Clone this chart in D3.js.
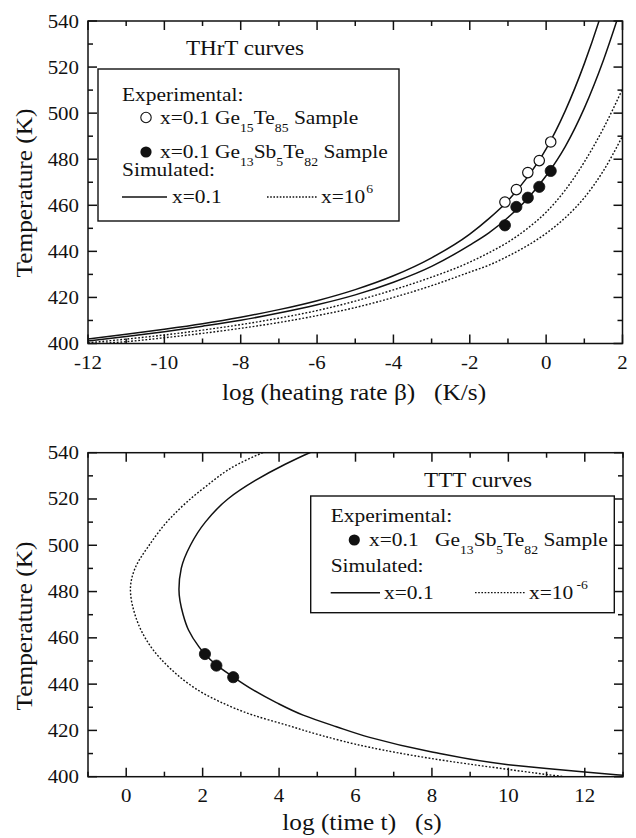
<!DOCTYPE html>
<html>
<head>
<meta charset="utf-8">
<script src="https://cdn.jsdelivr.net/npm/d3@7"></script>
<style>
  html, body { margin: 0; padding: 0; background: #fff; }
  svg { display: block; }
  text { font-family: "Liberation Serif", "Times New Roman", serif; fill: #111; white-space: pre; }
  .tick-mark { stroke: #111; stroke-width: 1.5px; fill: none; }
</style>
</head>
<body>
<svg id="chart" width="636" height="838" viewBox="0 0 636 838"></svg>
<script>
// ---------- THrT panel: temperature vs log heating rate ----------
const thrtLogRate = [-12, -11, -10, -9, -8, -7, -6, -5, -4, -3, -2, -1.5, -1, -0.5, 0, 0.5, 1, 1.5, 2];
// simulated, x = 0.1 (upper curve follows Ge15Te85 data, lower Ge13Sb5Te82)
const thrtSimUpper = [402.0, 404.0, 406.2, 408.6, 411.4, 414.7, 418.6, 423.4, 429.4, 437.2, 447.5, 454.2, 462.0, 472.0, 484.5, 501.0, 521.5, 546.0, 575.0];
const thrtSimLower = [401.1, 403.0, 405.1, 407.5, 410.1, 413.2, 416.8, 421.1, 426.6, 433.5, 442.7, 448.0, 454.7, 462.6, 472.8, 485.5, 502.2, 523.0, 547.7];
// simulated, x = 10^-6
const thrtSim6Upper = [400.3, 401.9, 403.7, 405.8, 408.2, 411.0, 414.3, 418.4, 423.3, 428.8, 435.3, 439.4, 444.0, 449.8, 457.0, 466.6, 478.8, 493.4, 510.5];
const thrtSim6Lower = [399.7, 400.8, 402.5, 404.4, 406.6, 409.1, 412.1, 415.6, 420.0, 425.1, 431.0, 434.0, 437.9, 442.4, 447.8, 454.6, 463.3, 475.0, 490.0];
// experimental points
const thrtExpRate = [-1.08, -0.78, -0.48, -0.18, 0.12];
const thrtExpGeTe = [461.4, 466.8, 474.2, 479.4, 487.5];
const thrtExpGeSbTe = [451.3, 459.3, 463.3, 468.0, 474.9];

// ---------- TTT panel: temperature vs log time ----------
const tttSimT    = [546, 540, 535, 528, 520, 510, 500, 490, 481, 470, 463.4, 456.2, 453.3, 448.4, 443.2, 437.5, 432, 426.6, 421.6, 417, 410.8, 405.2, 403.5, 402, 400.6, 399.5];
const tttSimLogt = [5.7, 4.80, 4.16, 3.38, 2.66, 2.07, 1.68, 1.44, 1.38, 1.49, 1.63, 1.90, 2.04, 2.35, 2.79, 3.32, 3.93, 4.63, 5.50, 6.37, 7.97, 10.0, 11.0, 12.0, 13.0, 13.8];
const tttSim6T    = [546, 540, 535, 525, 512, 500, 490, 481, 470, 462.6, 454.7, 446.8, 440.3, 436, 432.4, 426.6, 422.3, 418, 412.7, 407.9, 403.2, 400.3, 399];
const tttSim6Logt = [4.45, 3.57, 2.92, 2.05, 1.17, 0.6, 0.23, 0.11, 0.23, 0.41, 0.71, 1.15, 1.62, 2.02, 2.45, 3.32, 4.20, 5.07, 6.37, 7.97, 9.97, 11.32, 12.0];
const tttExpLogt = [2.06, 2.36, 2.80];
const tttExpT = [453, 448, 443];

// ---------- ticks ----------
const thrtXTicks = [-12, -10, -8, -6, -4, -2, 0, 2];
const thrtXMinor = [-11, -9, -7, -5, -3, -1, 1];
const tttXTicks = [0, 2, 4, 6, 8, 10, 12];
const tttXMinor = [-1, 1, 3, 5, 7, 9, 11, 13];
const tempTicks = [400, 420, 440, 460, 480, 500, 520, 540];
const tempMinor = [410, 430, 450, 470, 490, 510, 530];

const SX = 1.1; // horizontal stretch of the lettering
const ink = "#111";
const svg = d3.select("#chart");

function addText(parent, x, y, size, anchor, parts, rotate) {
  const t = parent.append("text")
    .attr("transform", `translate(${x},${y})` + (rotate ? ` rotate(${rotate})` : "") + ` scale(${SX},1)`)
    .attr("font-size", size)
    .attr("text-anchor", anchor || "start");
  if (typeof parts === "string") { t.text(parts); return t; }
  let shift = 0;
  parts.forEach(p => {
    const [s, kind, dx] = p;
    const target = kind === "sub" ? size * 0.42 : kind === "sup" ? -size * 0.5 : 0;
    const ts = t.append("tspan").text(s).attr("dy", target - shift);
    if (dx) ts.attr("dx", dx);
    if (kind) ts.attr("font-size", size * 0.64);
    shift = target;
  });
  return t;
}

function panel(cfg) {
  const x = d3.scaleLinear().domain(cfg.xDomain).range([cfg.left, cfg.right]);
  const y = d3.scaleLinear().domain([400, 540]).range([cfg.bottom, cfg.top]);
  const g = svg.append("g");

  const clipId = "clip" + cfg.id;
  g.append("defs").append("clipPath").attr("id", clipId).append("rect")
    .attr("x", cfg.left).attr("y", cfg.top)
    .attr("width", cfg.right - cfg.left).attr("height", cfg.bottom - cfg.top);

  g.append("rect")
    .attr("x", cfg.left).attr("y", cfg.top)
    .attr("width", cfg.right - cfg.left).attr("height", cfg.bottom - cfg.top)
    .attr("fill", "none").attr("stroke", ink).attr("stroke-width", 1.5);

  // tick labels
  cfg.xTicks.forEach(v => addText(g, x(v), cfg.bottom + 25, 19, "middle", String(v)));
  tempTicks.forEach(v => addText(g, cfg.left - 9, y(v) + 6.5, 19, "end", String(v)));

  // axis titles
  addText(g, cfg.xTitleX, cfg.bottom + cfg.xTitleDy, 23, "middle", cfg.xTitle);
  addText(g, 32, cfg.yTitleY, 23, "middle", "Temperature (K)", -90);

  return { x, y, g, cfg, clip: `url(#${clipId})` };
}

// inward tick marks on all four sides of a panel, drawn last
function drawTicks(p) {
  const c = p.cfg;
  const marks = [];
  c.xTicks.forEach(v => marks.push(["x", p.x(v), 9]));
  c.xMinor.forEach(v => marks.push(["x", p.x(v), 5]));
  tempTicks.forEach(v => marks.push(["y", p.y(v), 9]));
  tempMinor.forEach(v => marks.push(["y", p.y(v), 5]));
  const layer = svg.append("g").attr("class", "tick-layer");
  marks.forEach(([axis, pos, len]) => {
    const segs = axis === "x"
      ? [[pos, c.bottom, pos, c.bottom - len], [pos, c.top, pos, c.top + len]]
      : [[c.left, pos, c.left + len, pos], [c.right, pos, c.right - len, pos]];
    segs.forEach(s => {
      layer.append("line").attr("class", "tick-mark")
        .attr("x1", s[0]).attr("y1", s[1]).attr("x2", s[2]).attr("y2", s[3])
        .style("stroke", ink).style("stroke-width", "1.5px");
    });
  });
}

function drawCurve(p, pts, dotted, curve) {
  p.g.append("path")
    .datum(pts)
    .attr("clip-path", p.clip)
    .attr("fill", "none")
    .attr("stroke", ink)
    .attr("stroke-width", dotted ? 1.4 : 1.5)
    .attr("stroke-dasharray", dotted ? "1.8,1.8" : null)
    .attr("d", d3.line().x(d => p.x(d[0])).y(d => p.y(d[1])).curve(curve));
}

function drawDots(p, xs, ys, open) {
  p.g.selectAll(null).data(xs.map((v, i) => [v, ys[i]])).enter()
    .append("circle")
    .attr("cx", d => p.x(d[0])).attr("cy", d => p.y(d[1]))
    .attr("r", open ? 5.2 : 5.6)
    .attr("fill", open ? "#fff" : ink)
    .attr("stroke", ink).attr("stroke-width", open ? 1.2 : 0.8);
}

// ---------- THrT panel ----------
const thrtPanel = panel({
  id: "A", xDomain: [-12, 2], left: 88, right: 622.5, top: 21, bottom: 343.5,
  xTicks: thrtXTicks, xMinor: thrtXMinor,
  xTitle: "log (heating rate \u03B2)   (K/s)", xTitleX: 354, xTitleDy: 56.5, yTitleY: 193
});
const zipR = arr => thrtLogRate.map((v, i) => [v, arr[i]]);
drawCurve(thrtPanel, zipR(thrtSim6Upper), true, d3.curveMonotoneX);
drawCurve(thrtPanel, zipR(thrtSim6Lower), true, d3.curveMonotoneX);
drawCurve(thrtPanel, zipR(thrtSimUpper), false, d3.curveMonotoneX);
drawCurve(thrtPanel, zipR(thrtSimLower), false, d3.curveMonotoneX);
drawDots(thrtPanel, thrtExpRate, thrtExpGeTe, true);
drawDots(thrtPanel, thrtExpRate, thrtExpGeSbTe, false);

const tg = thrtPanel.g;
addText(tg, 245, 55, 21, "middle", "THrT curves");
tg.append("rect").attr("x", 98).attr("y", 69).attr("width", 301).attr("height", 152)
  .attr("fill", "#fff").attr("stroke", ink).attr("stroke-width", 1.4);
addText(tg, 122, 100.5, 19.5, "start", "Experimental:");
tg.append("circle").attr("cx", 146).attr("cy", 117.5).attr("r", 5.2)
  .attr("fill", "#fff").attr("stroke", ink).attr("stroke-width", 1.1);
addText(tg, 160, 123.5, 19.5, "start",
  [["x=0.1 Ge"], ["15", "sub"], ["Te"], ["85", "sub"], [" Sample"]]);
tg.append("circle").attr("cx", 146).attr("cy", 152).attr("r", 5.6).attr("fill", ink);
addText(tg, 160, 157.5, 19.5, "start",
  [["x=0.1 Ge"], ["13", "sub"], ["Sb"], ["5", "sub"], ["Te"], ["82", "sub"], [" Sample"]]);
addText(tg, 122, 175.5, 19.5, "start", "Simulated:");
tg.append("line").attr("x1", 122).attr("x2", 167).attr("y1", 197).attr("y2", 197)
  .attr("stroke", ink).attr("stroke-width", 1.5);
addText(tg, 172, 203, 19.5, "start", "x=0.1");
tg.append("line").attr("x1", 267).attr("x2", 318).attr("y1", 197).attr("y2", 197)
  .attr("stroke", ink).attr("stroke-width", 1.3).attr("stroke-dasharray", "1.6,1.6");
addText(tg, 321, 203, 19.5, "start", [["x=10"], ["6", "sup", 1]]);

// ---------- TTT panel ----------
const tttPanel = panel({
  id: "B", xDomain: [-1, 13], left: 88, right: 623, top: 452.7, bottom: 776.7,
  xTicks: tttXTicks, xMinor: tttXMinor,
  xTitle: "log (time t)   (s)", xTitleX: 362, xTitleDy: 53, yTitleY: 626
});
drawCurve(tttPanel, tttSim6T.map((T, i) => [tttSim6Logt[i], T]), true, d3.curveMonotoneY);
drawCurve(tttPanel, tttSimT.map((T, i) => [tttSimLogt[i], T]), false, d3.curveMonotoneY);
drawDots(tttPanel, tttExpLogt, tttExpT, false);

const bg = tttPanel.g;
addText(bg, 478, 487, 21, "middle", "TTT curves");
bg.append("rect").attr("x", 310.7).attr("y", 496).attr("width", 303.6).attr("height", 116.7)
  .attr("fill", "#fff").attr("stroke", ink).attr("stroke-width", 1.4);
addText(bg, 330.7, 522, 19.5, "start", "Experimental:");
bg.append("circle").attr("cx", 354.3).attr("cy", 540).attr("r", 5.6).attr("fill", ink);
addText(bg, 369, 545.5, 19.5, "start", "x=0.1");
addText(bg, 435, 545.5, 19.5, "start",
  [["Ge"], ["13", "sub"], ["Sb"], ["5", "sub"], ["Te"], ["82", "sub"], [" Sample"]]);
addText(bg, 330.7, 572, 19.5, "start", "Simulated:");
bg.append("line").attr("x1", 330.7).attr("x2", 380).attr("y1", 592.7).attr("y2", 592.7)
  .attr("stroke", ink).attr("stroke-width", 1.5);
addText(bg, 384, 598.5, 19.5, "start", "x=0.1");
bg.append("line").attr("x1", 475).attr("x2", 525).attr("y1", 592.7).attr("y2", 592.7)
  .attr("stroke", ink).attr("stroke-width", 1.3).attr("stroke-dasharray", "1.6,1.6");
addText(bg, 529, 598.5, 19.5, "start", [["x=10"], ["-6", "sup", 3]]);

drawTicks(thrtPanel);
drawTicks(tttPanel);
</script>
</body>
</html>
